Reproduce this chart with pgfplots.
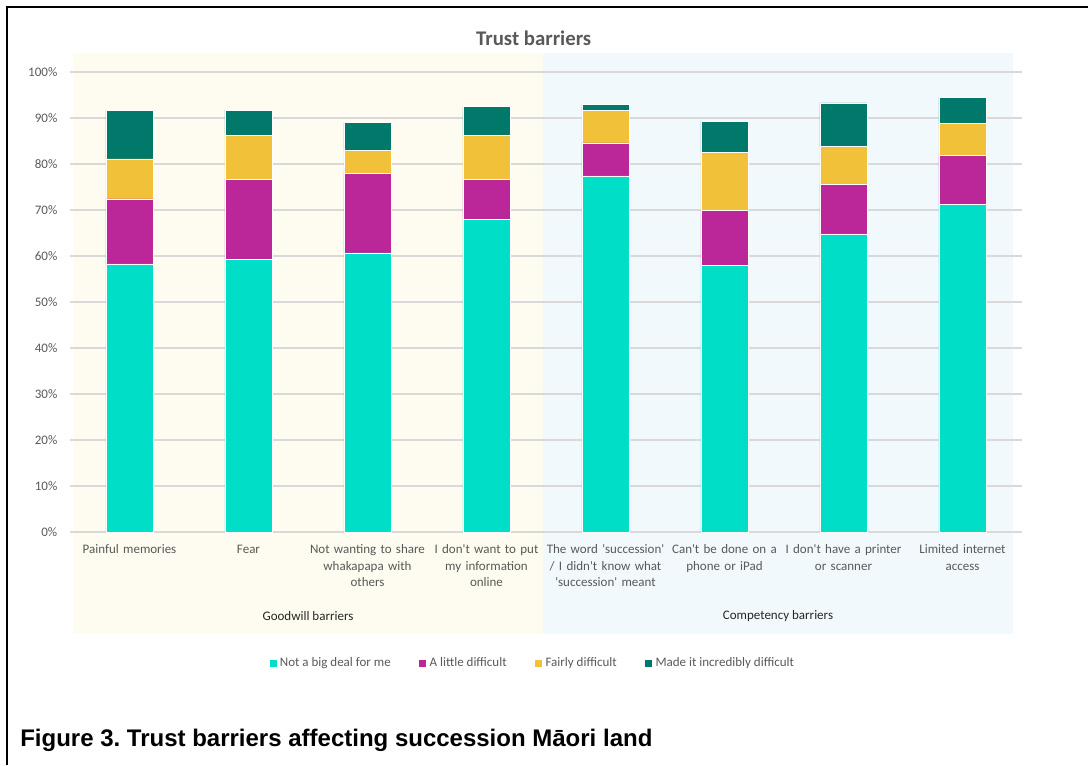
\documentclass[border=0pt]{standalone}
\usepackage{fontspec}
\setmainfont{Carlito}
\newfontfamily\arialfont{Liberation Sans}
\usepackage{pgfplots}
\pgfplotsset{compat=1.18}
\definecolor{cteal}{RGB}{0,222,200}
\definecolor{cmag}{RGB}{187,39,153}
\definecolor{cyel}{RGB}{240,193,57}
\definecolor{cgreen}{RGB}{0,121,106}
\definecolor{bgyel}{RGB}{254,252,240}
\definecolor{bgblue}{RGB}{241,249,253}
\definecolor{tgray}{RGB}{89,89,89}
\definecolor{tdark}{RGB}{38,38,38}
\definecolor{gridc}{RGB}{217,217,217}
\newcommand\q{\textquotesingle}
\frenchspacing
\begin{document}
\begin{tikzpicture}[x=0.75pt,y=0.75pt]
\useasboundingbox (0,0) rectangle (1088,765);
% background panels
\fill[bgyel] (73,131) rectangle (543,712);
\fill[bgblue] (543,131) rectangle (1013,712);
% frame
\draw[line width=1.9pt] (7,0) -- (7,758) -- (1088,758);
\begin{axis}[
  at={(52.5pt,174.75pt)}, anchor=south west,
  width=714pt, height=345pt, scale only axis,
  xmin=-0.5, xmax=7.5, ymin=0, ymax=100,
  ybar stacked, bar width=35.25pt,
  axis line style={draw=none},
  major tick length=0pt,
  ytick={0,10,...,100},
  yticklabel={\pgfmathprintnumber{\tick}\%},
  /pgf/number format/assume math mode=true,
  yticklabel style={font=\fontsize{9.75}{11}\selectfont, text=tgray, xshift=-6pt},
  ymajorgrids, grid style={draw=gridc, line width=1.1pt},
  xtick={0,...,7},
  xticklabels={
    Painful memories,
    Fear,
    {Not wanting to share\\whakapapa with\\others},
    {I don\q t want to put\\my information\\online},
    {The word \q succession\q\\/ I didn\q t know what\\\q succession\q{} meant},
    {Can\q t be done on a\\phone or iPad},
    {I don\q t have a printer\\or scanner},
    {Limited internet\\access}},
  xticklabel style={font=\fontsize{9.75}{12.4}\selectfont, text=tgray, align=center, text width=100pt, anchor=north, yshift=-6pt},
  every axis plot/.append style={draw=white, line width=0.4pt},
  legend image code/.code={\fill[#1] (0pt,-3pt) rectangle (6pt,3pt);},
  legend style={at={(0.486,-0.285)}, anchor=center, legend columns=4, draw=none, fill=none,
    font=\fontsize{9.75}{11}\selectfont, text=tgray,
    /tikz/every even column/.append style={column sep=18.75pt},
    legend cell align=left},
  clip=false,
]
\addplot[fill=cteal] coordinates {(0,58.3) (1,59.3) (2,60.7) (3,67.9) (4,77.4) (5,57.9) (6,64.8) (7,71.2)};
\addplot[fill=cmag] coordinates {(0,14.1) (1,17.4) (2,17.3) (3,8.8) (4,7.2) (5,12.0) (6,10.8) (7,10.6)};
\addplot[fill=cyel] coordinates {(0,8.7) (1,9.6) (2,4.9) (3,9.5) (4,7.1) (5,12.6) (6,8.2) (7,7.0)};
\addplot[fill=cgreen] coordinates {(0,10.5) (1,5.4) (2,6.1) (3,6.3) (4,1.3) (5,6.8) (6,9.5) (7,5.7)};
\legend{Not a big deal for me, A little difficult, Fairly difficult, Made it incredibly difficult}
\end{axis}
% title and group labels
\node[font=\bfseries\fontsize{15.6}{18}\selectfont, text=tgray] at (533.7,727) {Trust barriers};
\node[font=\fontsize{9.75}{11}\selectfont, text=tdark] at (308,149) {Goodwill barriers};
\node[font=\fontsize{9.75}{11}\selectfont, text=tdark] at (778,149) {Competency barriers};
% caption
\node[anchor=west, inner sep=0pt, font=\arialfont\bfseries\fontsize{18}{20}\selectfont] at (20,25) {Figure 3. Trust barriers affecting succession Māori land};
\end{tikzpicture}
\end{document}
